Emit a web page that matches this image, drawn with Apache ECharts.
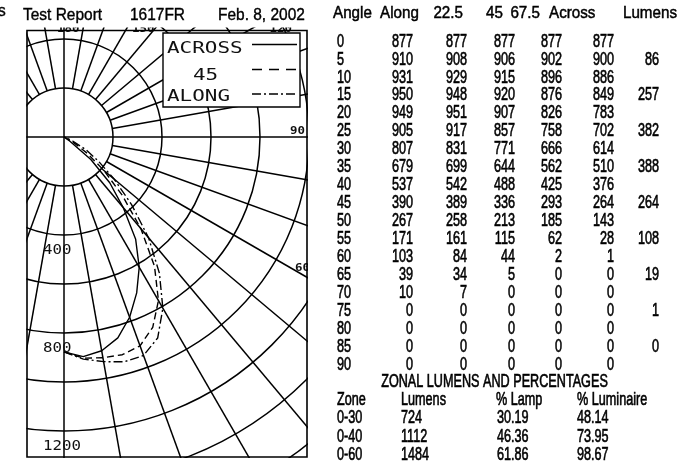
<!DOCTYPE html>
<html>
<head>
<meta charset="utf-8">
<script src="https://cdn.jsdelivr.net/npm/echarts@6.0.0/dist/echarts.min.js"></script>
<style>
html,body{margin:0;padding:0;background:#fff;}
#chart{width:689px;height:462px;}
</style>
</head>
<body>
<div id="chart"></div>
<script>
// ---------------- data ----------------
const angles = [0,5,10,15,20,25,30,35,40,45,50,55,60,65,70,75,80,85,90];
const along  = [877,910,931,950,949,905,807,679,537,390,267,171,103,39,10,0,0,0,0];
const deg225 = [877,908,929,948,951,917,831,699,542,389,258,161,84,34,7,0,0,0,0];
const deg45  = [877,906,915,920,907,857,771,644,488,336,213,115,44,5,0,0,0,0,0];
const deg675 = [877,902,896,876,826,758,666,562,425,293,185,62,2,0,0,0,0,0,0];
const across = [877,900,886,849,783,702,614,510,376,264,143,28,1,0,0,0,0,0,0];
const zoneLumens = ['', '86', '', '257', '', '382', '', '388', '', '264', '', '108', '', '19', '', '1', '', '0', ''];
const tableHeader = ['Angle','Along','22.5','45','67.5','Across','Lumens'];
const zonalTitle = 'ZONAL LUMENS AND PERCENTAGES';
const zonalHeader = ['Zone','Lumens','% Lamp','% Luminaire'];
const zones = ['0-30','0-40','0-60'];
const zonalLumens = ['724','1112','1484'];
const pctLamp = ['30.19','46.36','61.86'];
const pctLuminaire = ['48.14','73.95','98.67'];
const titleParts = ['Test Report','1617FR','Feb. 8, 2002'];
const cornerText = 's';
const legendNames = ['ACROSS','45','ALONG'];
const radiusTickLabels = [400, 800, 1200];
const angleTickLabels = [180, 150, 120, 90, 60];
const gridAngles = [0,10,20,30,40,50,60,70,80,90,100,110,120,130,140,150,160,170,
                    180,190,200,210,220,230,240,250,260,270,280,290,300,310,320,330,340,350];

// ---------------- layout / style ----------------
const CENTER = [64, 137];
const R_MAX = 1800;
const PX_PER_CD = 0.245;
const GRID_INNER = 200;
const BOX = {x0: 27, y0: 30.5, x1: 307, y1: 457};
const INK = '#000';
const SANS = "'Liberation Sans',Arial,sans-serif";
const PLOTTER = "'DejaVu Sans Mono',monospace";
const ANGLE_LABEL_OFFSET = {180: [-7, -1.5], 150: [6.5, -1.5], 120: [21, -1.5], 90: [-17, -6], 60: [-12, -9]};

const chart = echarts.init(document.getElementById('chart'), null, {renderer: 'canvas'});

function text(str, x, y, o) {
  const style = {
    text: str, fill: o.fill || '#000',
    fontFamily: o.family, fontSize: o.size, fontWeight: o.weight || 'normal',
    textAlign: o.align || 'left', align: o.align || 'left',
    textVerticalAlign: 'middle', verticalAlign: 'middle'
  };
  if (o.stroke) { style.stroke = '#000'; style.lineWidth = o.stroke; }
  return {
    type: 'text', x: x, y: y, z: o.z || 120, silent: true,
    scaleX: o.sx || 1, scaleY: o.sy || 1, style: style
  };
}
const DATA_FONT = {family: SANS, size: 16, sx: 0.79, sy: 1.1, stroke: 0.55};
const HEAD_FONT = {family: SANS, size: 16, sx: 0.95, sy: 1.06, stroke: 0.45};
function f(base, extra) { return Object.assign({}, base, extra || {}); }

const graphics = [];
// white covers outside the plot frame
graphics.push({type: 'rect', z: 100, silent: true, shape: {x: 0, y: 0, width: BOX.x0 - 0.6, height: 462}, style: {fill: '#fff'}});
graphics.push({type: 'rect', z: 100, silent: true, shape: {x: 0, y: 0, width: 689, height: 27.5}, style: {fill: '#fff'}});
graphics.push({type: 'rect', z: 100, silent: true, shape: {x: BOX.x1 + 0.9, y: 0, width: 400, height: 462}, style: {fill: '#fff'}});
graphics.push({type: 'rect', z: 100, silent: true, shape: {x: 0, y: BOX.y1 + 0.9, width: 689, height: 10}, style: {fill: '#fff'}});
// frame
graphics.push({type: 'rect', z: 101, silent: true,
  shape: {x: BOX.x0, y: BOX.y0, width: BOX.x1 - BOX.x0, height: BOX.y1 - BOX.y0},
  style: {fill: 'none', stroke: INK, lineWidth: 1.6}});

// legend box
graphics.push({type: 'rect', z: 102, silent: true, shape: {x: 163, y: 33, width: 137, height: 74},
  style: {fill: '#fff', stroke: INK, lineWidth: 1.4}});
const legendY = [48.5, 75.5, 96.5];
const legendLineY = [44.5, 69.5, 94];
const legendDash = [null, [10, 7], [9, 3, 2, 3]];
legendNames.forEach((n, i) => {
  const cx = n.length < 3 ? 193 : 167;
  graphics.push(text(n, cx, legendY[i], {family: PLOTTER, size: 16.5, sx: 1.27, z: 103, fill: '#111'}));
  graphics.push({type: 'line', z: 103, silent: true,
    shape: {x1: 252, y1: legendLineY[i], x2: 297, y2: legendLineY[i]},
    style: {stroke: INK, lineWidth: 1.3, lineDash: legendDash[i]}});
});

// title line above the plot
const titleX = [23, 130, 218];
titleParts.forEach((t, i) => graphics.push(text(t, titleX[i], 15.5, {family: SANS, size: 17.2, sx: 0.9, stroke: 0.4})));
graphics.push(text(cornerText, -2, 11, {family: SANS, size: 17.2, sx: 0.9, stroke: 0.4}));

// candela table
const rowY0 = 41.8, rowStep = 17.95;
const headerX = [333, 380, 463, 503, 540, 549, 677];
const headerAlign = ['left', 'left', 'right', 'right', 'right', 'left', 'right'];
tableHeader.forEach((h, i) => graphics.push(text(h, headerX[i], 13.7, f(HEAD_FONT, {align: headerAlign[i]}))));
const colRight = [413, 467, 515, 562, 614];
const cols = [along, deg225, deg45, deg675, across];
angles.forEach((a, r) => {
  const y = rowY0 + r * rowStep;
  graphics.push(text(String(a), 337, y, DATA_FONT));
  cols.forEach((c, k) => graphics.push(text(String(c[r]), colRight[k], y, f(DATA_FONT, {align: 'right'}))));
  if (zoneLumens[r] !== '') graphics.push(text(zoneLumens[r], 659, y, f(DATA_FONT, {align: 'right'})));
});

// zonal lumens
graphics.push(text(zonalTitle, 494.5, 381.7, f(DATA_FONT, {align: 'center'})));
const zonalX = [337, 401, 496, 577];
zonalHeader.forEach((h, i) => graphics.push(text(h, zonalX[i], 400, DATA_FONT)));
const zonalRowY = [418.5, 437, 455.5];
zones.forEach((z, r) => {
  const row = [z, zonalLumens[r], pctLamp[r], pctLuminaire[r]];
  row.forEach((v, k) => graphics.push(text(v, zonalX[k] + (k === 2 ? 1 : 0), zonalRowY[r], DATA_FONT)));
});

function curve(name, values, dash) {
  return {
    type: 'line', name: name, coordinateSystem: 'polar', polarIndex: 0,
    data: angles.map((a, i) => [values[i], a]),
    symbol: 'none', smooth: false, z: 5, silent: true,
    lineStyle: {color: INK, width: 1.4, type: dash}
  };
}

const option = {
  animation: false,
  backgroundColor: '#fff',
  polar: {center: CENTER, radius: R_MAX * PX_PER_CD},
  angleAxis: {
    type: 'value', min: 0, max: 360, startAngle: 270, clockwise: false,
    axisLine: {show: false}, axisTick: {show: false}, axisLabel: {show: false}, splitLine: {show: false}
  },
  radiusAxis: {
    type: 'value', min: 0, max: R_MAX, interval: 200,
    axisLine: {show: false}, axisTick: {show: false}, axisLabel: {show: false},
    splitLine: {show: true, lineStyle: {color: INK, width: 1.5}}
  },
  series: [
    {
      type: 'custom', name: 'radial grid', coordinateSystem: 'polar', z: 1, silent: true,
      data: gridAngles.map(a => [R_MAX, a]),
      renderItem: function (params, api) {
        const a = api.value(1);
        const r0 = a % 90 === 0 ? 0 : GRID_INNER;
        const p0 = api.coord([r0, a]);
        const p1 = api.coord([R_MAX, a]);
        return {type: 'line', shape: {x1: p0[0], y1: p0[1], x2: p1[0], y2: p1[1]},
          style: {stroke: INK, lineWidth: 1.5}};
      }
    },
    {
      type: 'custom', name: 'radius labels', coordinateSystem: 'polar', z: 2, silent: true,
      data: radiusTickLabels.map(v => [v, 0]),
      renderItem: function (params, api) {
        const v = api.value(0);
        const p = api.coord([v, 0]);
        return {type: 'text', x: p[0] - 21, y: p[1] + 15.5, scaleX: 1.17,
          style: {text: String(v), fill: '#111', fontFamily: PLOTTER, fontSize: 13.5,
            textAlign: 'left', align: 'left', textVerticalAlign: 'middle', verticalAlign: 'middle'}};
      }
    },
    {
      type: 'custom', name: 'angle labels', coordinateSystem: 'polar', z: 2, silent: true,
      data: angleTickLabels.map(a => [R_MAX, a]),
      renderItem: function (params, api) {
        const a = api.value(1);
        const c = api.coord([0, a]);
        const p = api.coord([1000, a]);
        const dx = (p[0] - c[0]) / 1000, dy = (p[1] - c[1]) / 1000;
        let t = Infinity;
        if (dx > 1e-6) t = Math.min(t, (BOX.x1 - c[0]) / dx);
        if (dx < -1e-6) t = Math.min(t, (BOX.x0 - c[0]) / dx);
        if (dy > 1e-6) t = Math.min(t, (BOX.y1 - c[1]) / dy);
        if (dy < -1e-6) t = Math.min(t, (BOX.y0 - c[1]) / dy);
        const off = ANGLE_LABEL_OFFSET[a];
        return {type: 'text', x: c[0] + dx * t + off[0], y: c[1] + dy * t + off[1], scaleX: 1.13,
          style: {text: String(a), fill: '#111', fontFamily: PLOTTER, fontSize: 11, fontWeight: 'bold',
            textAlign: 'left', align: 'left', textVerticalAlign: 'middle', verticalAlign: 'middle'}};
      }
    },
    curve('ACROSS', across, 'solid'),
    curve('45', deg45, [7, 4]),
    curve('ALONG', along, [9, 3, 2, 3])
  ],
  graphic: {elements: graphics}
};
chart.setOption(option);
</script>
</body>
</html>
